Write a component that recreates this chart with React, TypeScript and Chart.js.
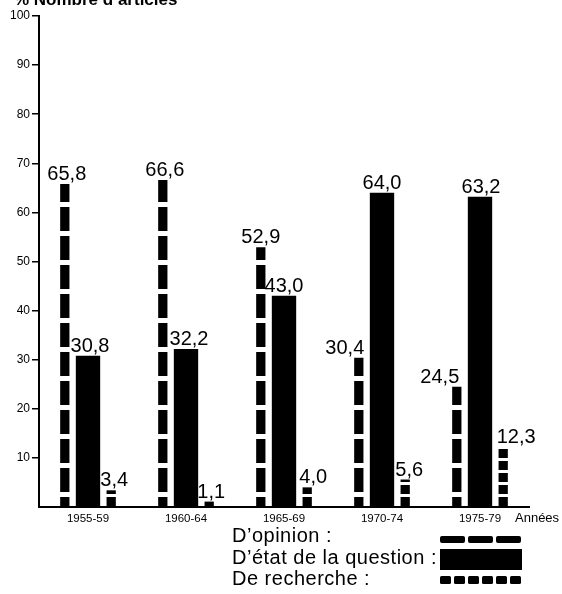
import React, { useEffect, useRef } from 'react';
import { Chart, registerables } from 'chart.js';

Chart.register(...registerables);

// ---- data ----
const periods = ['1955-59', '1960-64', '1965-69', '1970-74', '1975-79'];
const opinion = [65.8, 66.6, 52.9, 30.4, 24.5];
const etatQuestion = [30.8, 32.2, 43.0, 64.0, 63.2];
const recherche = [3.4, 1.1, 4.0, 5.6, 12.3];
const legendLabels = ['D\u2019opinion :', 'D\u2019\u00e9tat de la question :', 'De recherche :'];
const yAxisTitle = '% Nombre d\u2019articles';
const xAxisTitle = 'Ann\u00e9es';

// ---- styling constants (label nudges, px) ----
const labelDx = [
  [2, 2, 0, -14, -17],
  [2, 3, 0, 0, 1],
  [3, 2, 6, 4, 13],
];
const FONT = '"Liberation Sans", Arial, Helvetica, sans-serif';

function makeStripePattern(on: number, off: number): CanvasPattern {
  const c = document.createElement('canvas');
  c.width = 4;
  c.height = on + off;
  const g = c.getContext('2d')!;
  g.fillStyle = '#000';
  g.fillRect(0, 0, 4, on);
  return g.createPattern(c, 'repeat')!;
}

export default function App() {
  const ref = useRef<HTMLCanvasElement>(null);

  useEffect(() => {
    document.body.style.margin = '0';
    const opPattern = makeStripePattern(24, 5);
    const rePattern = makeStripePattern(9, 3);
    const seriesValues = [opinion, etatQuestion, recherche];

    const decor = {
      id: 'decor',
      beforeDatasetsDraw(chart: any) {
        const zero = chart.scales.y.getPixelForValue(0);
        opPattern.setTransform(new DOMMatrix([1, 0, 0, 1, 0, zero - 10]));
        rePattern.setTransform(new DOMMatrix([1, 0, 0, 1, 0, zero - 10]));
      },
      afterDatasetsDraw(chart: any) {
        const ctx = chart.ctx as CanvasRenderingContext2D;
        ctx.save();
        ctx.fillStyle = '#000';
        ctx.font = `20px ${FONT}`;
        ctx.textAlign = 'center';
        ctx.textBaseline = 'alphabetic';
        seriesValues.forEach((vals, i) => {
          const meta = chart.getDatasetMeta(i);
          meta.data.forEach((el: any, j: number) => {
            const txt = vals[j].toFixed(1).replace('.', ',');
            ctx.fillText(txt, el.x + labelDx[i][j], el.y - 4);
          });
        });
        ctx.restore();
      },
      afterDraw(chart: any) {
        const ctx = chart.ctx as CanvasRenderingContext2D;
        const xs = chart.scales.x;
        ctx.save();
        ctx.fillStyle = '#000';
        // y axis title (cut at top as in the source)
        ctx.font = `bold 17px ${FONT}`;
        ctx.textAlign = 'left';
        ctx.textBaseline = 'alphabetic';
        ctx.fillText(yAxisTitle, 14, 5);
        // x axis title
        ctx.font = `13px ${FONT}`;
        ctx.textBaseline = 'middle';
        ctx.fillText(xAxisTitle, xs.right - 14, xs.top + 11);
        // legend
        ctx.font = `20px ${FONT}`;
        (ctx as any).letterSpacing = '0.5px';
        ctx.textBaseline = 'alphabetic';
        const rows = [542, 564, 585];
        legendLabels.forEach((t, i) => ctx.fillText(t, 232, rows[i]));
        (ctx as any).letterSpacing = '0px';
        const sx = 440;
        for (let k = 0; k < 3; k++) {
          ctx.beginPath();
          (ctx as any).roundRect(sx + k * 28, 536, 25, 7, 2);
          ctx.fill();
        }
        ctx.fillRect(sx, 549, 82, 21);
        for (let k = 0; k < 6; k++) {
          ctx.beginPath();
          (ctx as any).roundRect(sx + k * 14, 576, 11, 8, 1.5);
          ctx.fill();
        }
        ctx.restore();
      },
    };

    const chart = new Chart(ref.current!, {
      type: 'bar',
      data: {
        labels: periods,
        datasets: [
          { label: legendLabels[0], data: opinion, backgroundColor: opPattern, barPercentage: 0.4, categoryPercentage: 0.71 },
          { label: legendLabels[1], data: etatQuestion, backgroundColor: '#000', barPercentage: 1.05, categoryPercentage: 0.71 },
          { label: legendLabels[2], data: recherche, backgroundColor: rePattern, barPercentage: 0.4, categoryPercentage: 0.71 },
        ],
      },
      options: {
        responsive: false,
        animation: false,
        devicePixelRatio: 1,
        layout: { padding: { top: 16, right: 33, bottom: 65, left: 0 } },
        plugins: { legend: { display: false }, tooltip: { enabled: false }, title: { display: false } },
        scales: {
          x: {
            type: 'category',
            offset: true,
            z: 1,
            grid: { display: false, drawTicks: false },
            border: { display: true, color: '#000', width: 2 },
            ticks: { color: '#000', font: { family: FONT, size: 11.5 }, padding: 5, maxRotation: 0 },
            afterFit: (s: any) => { s.height = 22; },
          },
          y: {
            min: 0,
            max: 100,
            border: { display: true, color: '#000', width: 2 },
            grid: {
              drawOnChartArea: false,
              drawTicks: true,
              tickLength: 7,
              lineWidth: 1.5,
              color: (c: any) => (c.tick && c.tick.value === 0 ? 'rgba(0,0,0,0)' : '#000'),
            },
            ticks: {
              stepSize: 10,
              color: '#000',
              padding: 2,
              font: { family: FONT, size: 12 },
              callback: (v: any) => (v === 0 ? '' : String(v)),
            },
            afterFit: (s: any) => { s.width = 39; },
          },
        },
      },
      plugins: [decor],
    } as any);

    return () => chart.destroy();
  }, []);

  return (
    <div style={{ width: 562, height: 594 }}>
      <canvas ref={ref} width={562} height={594} style={{ display: 'block' }} />
    </div>
  );
}
